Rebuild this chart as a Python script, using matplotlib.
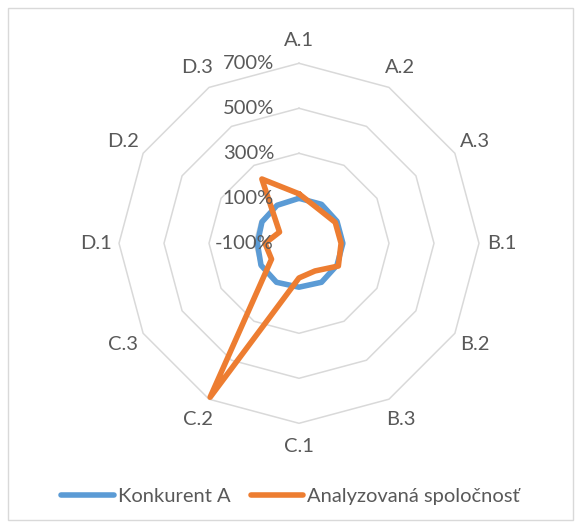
import numpy as np
import matplotlib
matplotlib.use("Agg")
import matplotlib.pyplot as plt
from matplotlib.patches import Rectangle
from matplotlib.lines import Line2D

# Categories around the radar, clockwise from the top
categories = ["A.1", "A.2", "A.3", "B.1", "B.2", "B.3",
              "C.1", "C.2", "C.3", "D.1", "D.2", "D.3"]

# Values in percent
konkurent_a = [100, 100, 95, 95, 95, 100, 95, 100, 95, 85, 90, 95]
analyzovana = [120, 75, 86, 87, 102, 42, 54, 690, 41, 51, 0, 230]

series_names = ["Konkurent A", "Analyzovaná spoločnosť"]
series_colors = ["#5B9BD5", "#ED7D31"]

r_ticks = [-100, 100, 300, 500, 700]
r_tick_labels = ["-100%", "100%", "300%", "500%", "700%"]

text_color = "#595959"
grid_color = "#D9D9D9"
font = ["Lato", "DejaVu Sans"]
plt.rcParams["font.family"] = font
fs = 14.5

W, H = 581, 528
fig = plt.figure(figsize=(W / 100, H / 100), dpi=100)

# Outer chart-area border
fig.patches.append(Rectangle((8 / W, 8 / H), (W - 16) / W, (H - 16) / H,
                             transform=fig.transFigure, fill=False,
                             edgecolor=grid_color, linewidth=1.0))

cx, cy, R = 299, 243.3, 180
ax = fig.add_axes([(cx - R) / W, (H - cy - R) / H, 2 * R / W, 2 * R / H],
                  projection="polar")
ax.set_theta_zero_location("N")
ax.set_theta_direction(-1)
ax.set_rlim(r_ticks[0], r_ticks[-1])
ax.set_xticks([])
ax.set_yticks([])
ax.grid(False)
ax.spines["polar"].set_visible(False)
ax.patch.set_alpha(0)

n = len(categories)
theta = np.arange(n) * 2 * np.pi / n
theta_closed = np.append(theta, theta[0])

# Polygonal gridlines
for rv in r_ticks[1:]:
    ax.plot(theta_closed, [rv] * (n + 1), color=grid_color, lw=1.1,
            zorder=1, clip_on=False)

# Data series
for vals, color in zip([konkurent_a, analyzovana], series_colors):
    v = np.append(vals, vals[0])
    ax.plot(theta_closed, v, color=color, lw=4.0, solid_joinstyle="round",
            solid_capstyle="round", zorder=3, clip_on=False)

# Radial axis labels
for rv, lab in zip(r_ticks, r_tick_labels):
    ax.annotate(lab, xy=(0, rv), xytext=(-18, 0), textcoords="offset points",
                ha="right", va="center", fontsize=fs, color=text_color,
                annotation_clip=False, zorder=4)

# Category labels
for t, lab in zip(theta, categories):
    ax.text(t, 802, lab, ha="center", va="center", fontsize=fs,
            color=text_color, clip_on=False)

handles = [Line2D([], [], color=c, lw=4.0, solid_capstyle="round")
           for c in series_colors]
fig.legend(handles, series_names, loc="center", bbox_to_anchor=(0.5, 1 - 496 / H),
           ncol=2, frameon=False, fontsize=fs, labelcolor=text_color,
           handlelength=2.6, handletextpad=0.2, columnspacing=1.0)

fig.savefig("out.png", dpi=100, facecolor="white")
